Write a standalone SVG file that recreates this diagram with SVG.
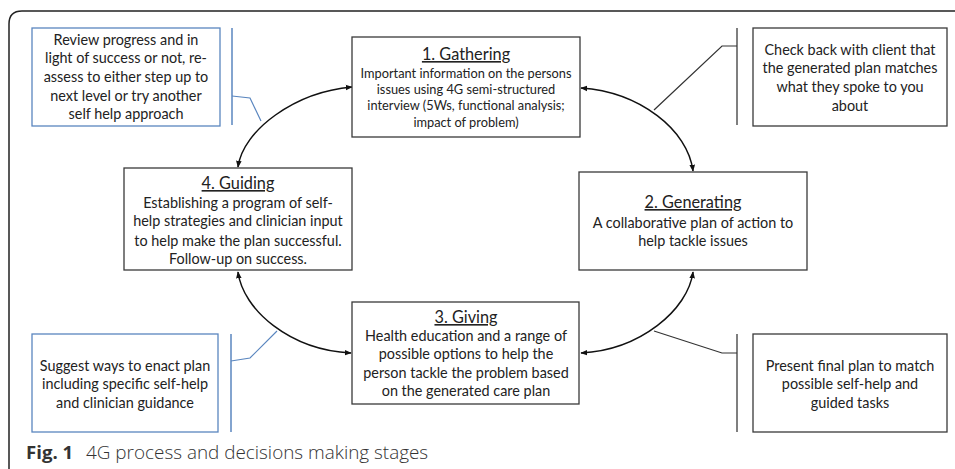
<svg xmlns="http://www.w3.org/2000/svg" width="955" height="469" viewBox="0 0 955 469">
<defs>
<marker id="ah" viewBox="0 0 10 10" refX="9" refY="5" markerWidth="7" markerHeight="7" orient="auto-start-reverse" markerUnits="userSpaceOnUse">
<path d="M0,1 L10,5 L0,9 z" fill="#111"/>
</marker>
<style>
.box{fill:#fff;stroke:#3a3a3a;stroke-width:1.3}
.bbox{fill:#fff;stroke:#5a86bf;stroke-width:1.3}
.t{font-family:Lato,"Liberation Sans",sans-serif;font-size:14.4px;fill:#222;text-anchor:middle}
.ts{font-family:Lato,"Liberation Sans",sans-serif;font-size:12.8px;fill:#222;text-anchor:middle}
.title{font-family:Lato,"Liberation Sans",sans-serif;font-size:16.3px;fill:#222;text-anchor:middle;text-decoration:underline}
.arc{fill:none;stroke:#111;stroke-width:1.5;marker-start:url(#ah);marker-end:url(#ah)}
.lk{fill:none;stroke:#333;stroke-width:1.2}
.lb{fill:none;stroke:#5a86bf;stroke-width:1.2}
.vk{stroke:#555;stroke-width:1.5}
.vb{stroke:#5a86bf;stroke-width:1.5}
</style>
</defs>
<rect width="955" height="469" fill="#fff"/>
<path d="M9,469 V24 Q9,11 22,11 H955" fill="none" stroke="#222" stroke-width="1.5"/>

<g id="connectors">
<path class="arc" d="M352,87 C295,92 243,130 238,167"/>
<path class="arc" d="M581,88 C640,92 688,130 693,171"/>
<path class="arc" d="M238,272 C243,310 290,350 351,353"/>
<path class="arc" d="M693,272 C688,310 640,350 581,353"/>
<line class="vb" x1="232" y1="28" x2="232" y2="125"/>
<polyline class="lb" points="232,96 250,98 261,121"/>
<line class="vk" x1="737" y1="28" x2="737" y2="125"/>
<polyline class="lk" points="737,46 722,46 654,110"/>
<line class="vb" x1="231" y1="334" x2="231" y2="432"/>
<polyline class="lb" points="231,361 250,358 277,331"/>
<line class="vk" x1="737" y1="334" x2="737" y2="432"/>
<polyline class="lk" points="737,353 722,353 654,331"/>
</g>

<g id="review">
<rect class="bbox" x="32" y="28" width="188" height="98"/>
<text class="t" x="126" y="45">Review progress and in</text>
<text class="t" x="126" y="63">light of success or not, re-</text>
<text class="t" x="126" y="82">assess to either step up to</text>
<text class="t" x="126" y="101">next level or try another</text>
<text class="t" x="126" y="119">self help approach</text>
</g>

<g id="gathering">
<rect class="box" x="352" y="37" width="228" height="100"/>
<text class="title" x="466" y="60">1. Gathering</text>
<text class="ts" x="466" y="78">Important information on the persons</text>
<text class="ts" x="466" y="94">issues using 4G semi-structured</text>
<text class="ts" x="466" y="110">interview (5Ws, functional analysis;</text>
<text class="ts" x="466" y="127">impact of problem)</text>
</g>

<g id="check">
<rect class="box" x="753" y="28" width="194" height="98"/>
<text class="t" x="850" y="55">Check back with client that</text>
<text class="t" x="850" y="73">the generated plan matches</text>
<text class="t" x="850" y="92">what they spoke to you</text>
<text class="t" x="850" y="111">about</text>
</g>

<g id="guiding">
<rect class="box" x="124" y="168" width="228" height="102"/>
<text class="title" x="238" y="189">4. Guiding</text>
<text class="t" x="238" y="208">Establishing a program of self-</text>
<text class="t" x="238" y="226">help strategies and clinician input</text>
<text class="t" x="238" y="246">to help make the plan successful.</text>
<text class="t" x="238" y="264">Follow-up on success.</text>
</g>

<g id="generating">
<rect class="box" x="579" y="172" width="228" height="98"/>
<text class="title" x="693" y="208">2. Generating</text>
<text class="t" x="693" y="228">A collaborative plan of action to</text>
<text class="t" x="693" y="246">help tackle issues</text>
</g>

<g id="giving">
<rect class="box" x="352" y="302" width="227" height="102"/>
<text class="title" x="466" y="323">3. Giving</text>
<text class="t" x="466" y="341">Health education and a range of</text>
<text class="t" x="466" y="359">possible options to help the</text>
<text class="t" x="466" y="378">person tackle the problem based</text>
<text class="t" x="466" y="396">on the generated care plan</text>
</g>

<g id="suggest">
<rect class="bbox" x="32" y="334" width="186" height="98"/>
<text class="t" x="125" y="371">Suggest ways to enact plan</text>
<text class="t" x="125" y="389">including specific self-help</text>
<text class="t" x="125" y="408">and clinician guidance</text>
</g>

<g id="present">
<rect class="box" x="753" y="334" width="194" height="98"/>
<text class="t" x="850" y="371">Present final plan to match</text>
<text class="t" x="850" y="389">possible self-help and</text>
<text class="t" x="850" y="408">guided tasks</text>
</g>

<g id="caption">
<text x="26" y="459" style="font-family:'Open Sans','Noto Sans',sans-serif;font-size:18.6px;fill:#333"><tspan font-weight="700">Fig. 1</tspan><tspan x="86" font-weight="300" font-size="18.9px">4G process and decisions making stages</tspan></text>
</g>
</svg>
